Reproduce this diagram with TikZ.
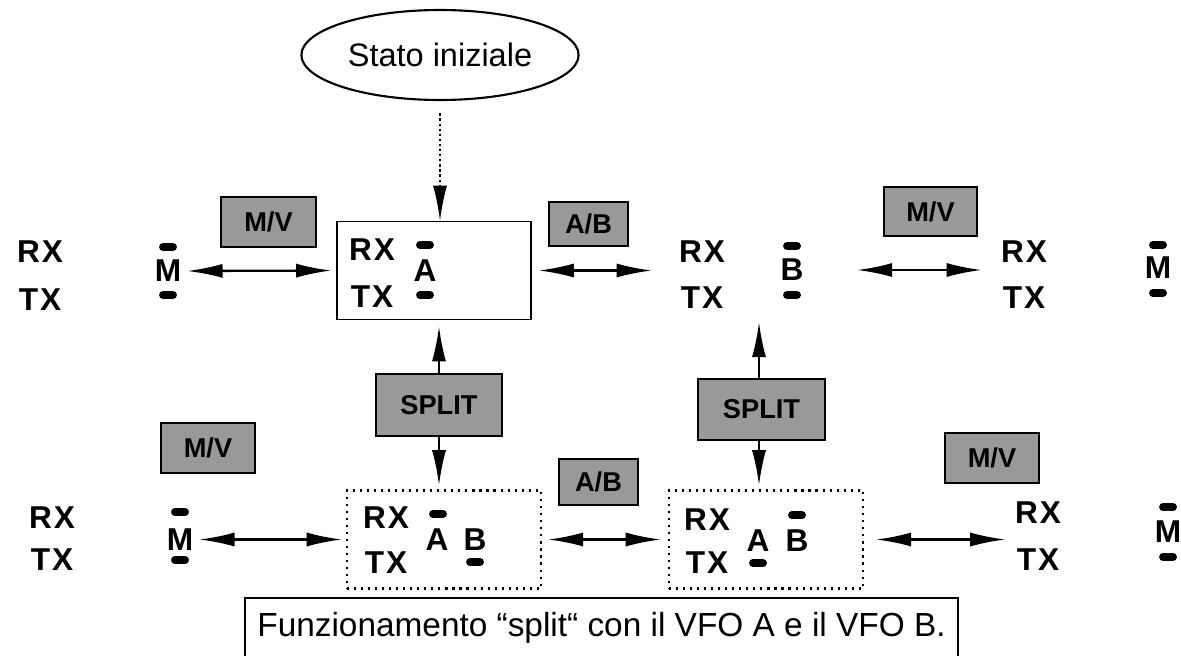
\documentclass[tikz,border=0pt]{standalone}
\usepackage{fontspec}
\setmainfont{Liberation Sans}
\newfontfamily\lblfont[LetterSpace=6]{Liberation Sans}
\usetikzlibrary{arrows.meta,shapes.geometric}
\definecolor{keygray}{gray}{0.6}

\begin{document}
\begin{tikzpicture}[x=0.02cm,y=-0.02cm,
  lbl/.style={font=\lblfont\bfseries\fontsize{18}{20}\selectfont},
  key/.style={draw,line width=1.4pt,fill=keygray,inner sep=0pt,
    font=\bfseries\fontsize{15.5}{17}\selectfont},
  bar/.style={line width=4.5pt,line cap=round},
  vfobox/.style={draw,line width=0.9pt,minimum width=3.88cm,minimum height=1.96cm},
  dotbox/.style={vfobox,line width=1.3pt,dash pattern=on 1.2pt off 2.8pt},
  dbl/.style={line width=1.3pt,{Latex[length=20pt,width=8pt]}-{Latex[length=20pt,width=8pt]}},
  one/.style={line width=1.3pt,-{Latex[length=20pt,width=8pt]}}]
  \useasboundingbox (0,0) rectangle (1181,656);

  % initial state
  \node[draw,ellipse,line width=1.2pt,minimum width=4.6cm,minimum height=1.8cm,
    font=\fontsize{18.5}{20}\selectfont] (start) at (440,55) {Stato iniziale};

  % upper row: M -- A -- B -- M
  \node[vfobox] (boxA) at (434,270.5) {};
  \node[lbl] (rxTL) at (40,252) {RX};
  \node[lbl] (txTL) at (40,300) {TX};
  \node[lbl] (mTL) at (168,271) {M};
  \draw[bar] (163,247) -- (173,247);
  \draw[bar] (163,295) -- (173,295);
  \node[lbl] (rxA) at (372,250) {RX};
  \node[lbl] (txA) at (372,297) {TX};
  \node[lbl] (aA) at (425,271) {A};
  \draw[bar] (420,245) -- (430,245);
  \draw[bar] (420,295) -- (430,295);
  \node[lbl] (rxTM) at (702,252) {RX};
  \node[lbl] (txTM) at (702,298) {TX};
  \node[lbl] (bTM) at (792,270) {B};
  \draw[bar] (787,246) -- (797,246);
  \draw[bar] (787,295) -- (797,295);
  \node[lbl] (rxTR) at (1024,252) {RX};
  \node[lbl] (txTR) at (1024,298) {TX};
  \node[lbl] (mTR) at (1158,268) {M};
  \draw[bar] (1153,245) -- (1163,245);
  \draw[bar] (1153,293) -- (1163,293);

  % keys of the upper row
  \node[key,minimum width=1.9cm,minimum height=1cm] (mvTL) at (268.5,222) {M/V};
  \node[key,minimum width=1.58cm,minimum height=0.88cm] (abT) at (588.5,224) {A/B};
  \node[key,minimum width=1.86cm,minimum height=0.98cm] (mvTR) at (930.5,211.5) {M/V};

  % lower row: M -- A B -- A B -- M
  \node[dotbox] (boxBL) at (444,539.5) {};
  \node[dotbox] (boxBR) at (766,539.5) {};
  \node[lbl] (rxBL) at (52,518) {RX};
  \node[lbl] (txBL) at (52,560) {TX};
  \node[lbl] (mBL) at (180,539.5) {M};
  \draw[bar] (175,512) -- (185,512);
  \draw[bar] (175,560) -- (185,560);
  \node[lbl] (rxL) at (386,518) {RX};
  \node[lbl] (txL) at (386,563) {TX};
  \node[lbl] (aL) at (437,540) {A};
  \node[lbl] (bL) at (475,540) {B};
  \draw[bar] (433,514) -- (443,514);
  \draw[bar] (470,562) -- (480,562);
  \node[lbl] (rxR) at (707,520) {RX};
  \node[lbl] (txR) at (707,563) {TX};
  \node[lbl] (aR) at (758,541) {A};
  \node[lbl] (bR) at (797,541) {B};
  \draw[bar] (753,563) -- (763,563);
  \draw[bar] (792,515) -- (802,515);
  \node[lbl] (rxBR) at (1038,513) {RX};
  \node[lbl] (txBR) at (1038,560) {TX};
  \node[lbl] (mBR) at (1168,532) {M};
  \draw[bar] (1163,507) -- (1173,507);
  \draw[bar] (1163,557) -- (1173,557);

  % keys of the lower row
  \node[key,minimum width=2.52cm,minimum height=1.24cm] (splitL) at (439,405) {SPLIT};
  \node[key,minimum width=2.54cm,minimum height=1.22cm] (splitR) at (761.5,409.5) {SPLIT};
  \node[key,minimum width=1.88cm,minimum height=1cm] (mvBL) at (208,448) {M/V};
  \node[key,minimum width=1.58cm,minimum height=0.92cm] (abB) at (598.5,482) {A/B};
  \node[key,minimum width=1.88cm,minimum height=1cm] (mvBR) at (992,458) {M/V};

  % arrows
  \draw[one,dash pattern=on 1.3pt off 1.6pt,line width=1.1pt,shorten <=7pt]
    (start.south) -- (start.south |- boxA.north);
  \draw[dbl,shorten >=2.8pt] (mTL.east) -- (boxA.west);
  \draw[dbl,shorten <=4pt,shorten >=12pt] (boxA.east) -- (rxTM.west |- boxA.east);
  \draw[dbl,shorten <=27pt,shorten >=7.5pt] (bTM.east) -- (rxTR.west |- bTM.east);
  \draw[one,shorten >=3.4pt] (splitL.north) -- (splitL.north |- boxA.south);
  \draw[one,shorten >=2.3pt] (splitL.south) -- (splitL.south |- boxBL.north);
  \coordinate (upB) at (759,322);
  \draw[one] (splitR.north -| upB) -- (upB);
  \draw[one,shorten >=2.3pt] (splitR.south -| upB) -- (upB |- boxBR.north);
  \draw[dbl,shorten >=2.3pt] (mBL.east) -- (boxBL.west);
  \draw[dbl,shorten <=3.4pt,shorten >=4pt] (boxBL.east) -- (boxBR.west);
  \draw[dbl,shorten <=6.8pt,shorten >=2pt] (boxBR.east) -- (rxBR.west |- boxBR.east);

  % caption
  \node[draw,line width=0.9pt,minimum width=14.26cm,minimum height=1.2cm,
    font=\fontsize{19}{21}\selectfont] (caption) at (601.5,628)
    {Funzionamento “split“ con il VFO A e il VFO B.};
\end{tikzpicture}
\end{document}
